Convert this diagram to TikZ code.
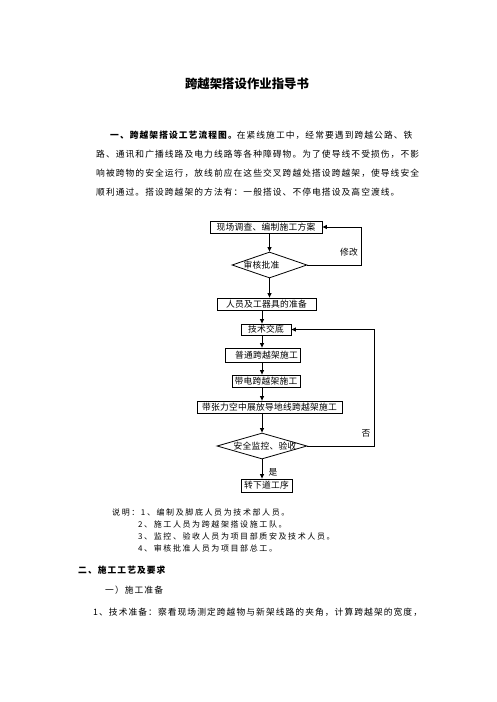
\documentclass[tikz,border=0pt]{standalone}
\usepackage{fontspec}
\setmainfont{Noto Sans CJK SC}
\newfontfamily\bodyf[LetterSpace=12.2]{Noto Sans CJK SC}
\newfontfamily\notef[LetterSpace=20]{Noto Sans CJK SC}
\newfontfamily\boxf[LetterSpace=3]{Noto Sans CJK SC}
\newfontfamily\titlef{Noto Sans CJK SC}
\usetikzlibrary{shapes.geometric,arrows.meta}
\begin{document}
\begin{tikzpicture}[x=1pt,y=-1pt,
  para/.style={anchor=west, inner sep=0pt, font=\bodyf\fontsize{8.75pt}{10pt}\selectfont},
  notetext/.style={anchor=west, inner sep=0pt, font=\notef\fontsize{8pt}{10pt}\selectfont},
  flowbox/.style={draw, line width=0.8pt, rectangle, inner sep=0pt, font=\boxf\fontsize{8.75pt}{10pt}\selectfont},
  flowdia/.style={draw, line width=0.8pt, diamond, inner sep=0pt, font=\boxf\fontsize{8.75pt}{10pt}\selectfont},
  lbl/.style={inner sep=0pt, font=\boxf\fontsize{8.75pt}{10pt}\selectfont},
  arr/.style={line width=0.9pt, -{Triangle[length=4.5pt,width=4pt]}},
]
\fill[white] (0,0) rectangle (496,702);
\useasboundingbox (0,0) rectangle (496,702);

% title
\node[inner sep=0pt, font=\titlef\bfseries\fontsize{12.4pt}{14pt}\selectfont] (title) at (247,84) {跨越架搭设作业指导书};

% paragraph
\node[para] (p1) at (110,135) {\bfseries 一、跨越架搭设工艺流程图。\mdseries 在紧线施工中，经常要遇到跨越公路、铁};
\node[para] (p2) at (96,154) {路、通讯和广播线路及电力线路等各种障碍物。为了使导线不受损伤，不影};
\node[para] (p3) at (96,173) {响被跨物的安全运行，放线前应在这些交叉跨越处搭设跨越架，使导线安全};
\node[para] (p4) at (96,192) {顺利通过。搭设跨越架的方法有：一般搭设、不停电搭设及高空渡线。};

% flowchart
\node[flowbox, minimum width=112pt, minimum height=12pt] (b1) at (266,227) {现场调查、编制施工方案};
\node[flowdia, minimum width=75pt, minimum height=26pt, aspect=2.88] (d1) at (269.5,265) {\makebox[0pt]{审核批准\hspace{16pt}}};
\node[flowbox, minimum width=99pt, minimum height=12pt] (b3) at (266.5,304) {人员及工器具的准备};
\node[flowbox, minimum width=50pt, minimum height=11pt] (b4) at (266,329.5) {技术交底};
\node[flowbox, minimum width=75pt, minimum height=14pt] (b5) at (262.5,355) {\hspace*{8pt}普通跨越架施工};
\node[flowbox, minimum width=68pt, minimum height=12pt] (b6) at (266,381) {带电跨越架施工};
\node[flowbox, minimum width=145pt, minimum height=12pt] (b7) at (269.5,407) {带张力空中展放导地线跨越架施工};
\node[flowdia, minimum width=90pt, minimum height=26pt, aspect=3.46] (d2) at (262,446) {\makebox[0pt]{\hspace{6pt}安全监控、验收}};
\node[flowbox, minimum width=51pt, minimum height=13pt] (b8) at (266.5,485.5) {转下道工序};

\coordinate (col) at (262,0);
\coordinate (fb1) at (361,0);
\coordinate (fb2) at (374,0);

\draw[arr] (b1.south -| d1.north) -- (d1.north);
\draw[arr] (d1.south) -- (d1.south |- b3.north);
\draw[arr] (d1.east) -- (d1.east -| fb1) |- (b1.east);
\draw[arr] (b3.south -| col) -- (b4.north -| col);
\draw[arr] (b4.south -| col) -- (b5.north -| col);
\draw[arr] (b5.south -| col) -- (b6.north -| col);
\draw[arr] (b6.south -| col) -- (b7.north -| col);
\draw[arr] (b7.south -| col) -- (d2.north);
\draw[arr] (d2.south) -- (b8.north -| d2.south);
\draw[arr] (d2.east) -- (d2.east -| fb2) |- (b4.east);

\node[lbl] (l1) at (349,252) {修改};
\node[lbl] (l2) at (366,433) {否};
\node[lbl] (l3) at (273,472) {是};

% notes
\node[notetext] (n1) at (112,512) {说明：1、编制及脚底人员为技术部人员。};
\node[notetext] (n2) at (138,524) {2、施工人员为跨越架搭设施工队。};
\node[notetext] (n3) at (138,536) {3、监控、验收人员为项目部质安及技术人员。};
\node[notetext] (n4) at (138,548) {4、审核批准人员为项目部总工。};

% section
\node[para] (s1) at (78,570) {\bfseries 二、施工工艺及要求};
\node[para] (s2) at (105,590) {一）施工准备};
\node[para] (s3) at (93,612) {1、技术准备：察看现场测定跨越物与新架线路的夹角，计算跨越架的宽度，};
\end{tikzpicture}
\end{document}
